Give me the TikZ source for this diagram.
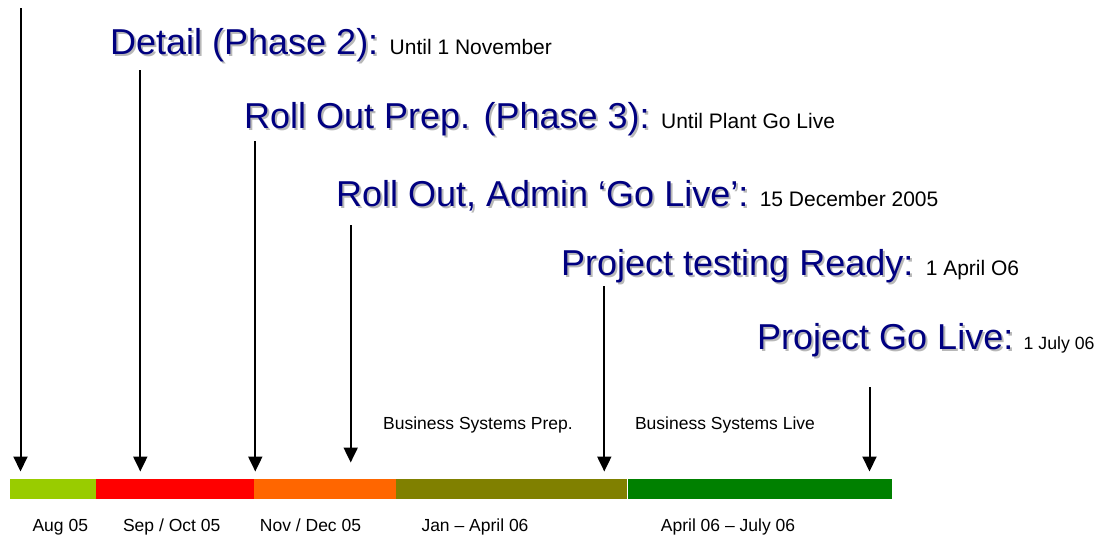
\documentclass[tikz,border=0pt]{standalone}
\usepackage{fontspec}
\setmainfont{Liberation Sans}
\usetikzlibrary{arrows.meta}
\definecolor{titleblue}{RGB}{0,0,128}
\definecolor{augcol}{RGB}{153,204,0}
\definecolor{sepcol}{RGB}{255,0,0}
\definecolor{novcol}{RGB}{255,102,0}
\definecolor{jancol}{RGB}{128,128,0}
\definecolor{aprcol}{RGB}{0,128,0}
\newcommand\shadowtext[1]{\rlap{\hspace{2pt}\raisebox{-2pt}{\textcolor{black!28}{#1}}}#1}
\tikzset{
	phase/.style={anchor=base west, inner sep=0pt, text=titleblue, font=\fontsize{36}{40}\selectfont},
	when/.style={anchor=base west, inner sep=0pt, font=\fontsize{21}{24}\selectfont},
	period/.style={anchor=base, inner sep=0pt, font=\fontsize{17.5}{20}\selectfont},
	milestone/.style={-{Triangle[width=14pt,length=15pt]}, line width=2pt}
}

\begin{document}
\begin{tikzpicture}[x=1pt,y=-1pt]
				\useasboundingbox (0,0) rectangle (1101,536);
				
				\node[phase] (detail) at (110,54) {\shadowtext{Detail (Phase 2):}};
				\node[when] (detailwhen) at ([xshift=11pt]detail.base east) {Until 1 November};
				\node[phase] (prep) at (244,128) {\shadowtext{Roll Out Prep. (Phase 3):}};
				\node[when] (prepwhen) at ([xshift=11pt]prep.base east) {Until Plant Go Live};
				\node[phase] (admin) at (336,206) {\shadowtext{Roll Out, Admin ‘Go Live’:}};
				\node[when] (adminwhen) at ([xshift=11pt]admin.base east) {15 December 2005};
				\node[phase] (testing) at (561,275) {\shadowtext{Project testing Ready:}};
				\node[when] (testingwhen) at ([xshift=12pt]testing.base east) {1 April O6};
				\node[phase] (golive) at (757,349) {\shadowtext{Project Go Live:}};
				\node[when, font=\fontsize{17.7}{20}\selectfont] (golivewhen) at ([xshift=10pt]golive.base east) {1 July 06};
				
				\coordinate (m1) at (20.5,8);
				\coordinate (m1tip) at (20.5,471.5);
				\coordinate (m2) at (140.3,70);
				\coordinate (m2tip) at (140.3,471.5);
				\coordinate (m3) at (255.3,141);
				\coordinate (m3tip) at (255.3,471.5);
				\coordinate (m4) at (350.7,225);
				\coordinate (m4tip) at (350.7,462.5);
				\coordinate (m5) at (604.3,286);
				\coordinate (m5tip) at (604.3,471.5);
				\coordinate (m6) at (869.5,387);
				\coordinate (m6tip) at (869.5,471.5);
				\draw[milestone] (m1) -- (m1tip);
				\draw[milestone] (m2) -- (m2tip);
				\draw[milestone] (m3) -- (m3tip);
				\draw[milestone] (m4) -- (m4tip);
				\draw[milestone] (m5) -- (m5tip);
				\draw[milestone] (m6) -- (m6tip);
				
				\node[period] (bsprep) at (478,429) {Business Systems Prep.};
				\node[period] (bslive) at (725,429) {Business Systems Live};
				
				\fill[augcol] (9.5,479) rectangle (95.5,498.5);
				\fill[sepcol] (95.5,479) rectangle (254,498.5);
				\fill[novcol] (254,479) rectangle (396,498.5);
				\fill[jancol] (396,479) rectangle (626.8,498.5);
				\fill[aprcol] (627.8,479) rectangle (892.3,498.5);
				
				\node[period] (aug) at (60.3,531) {Aug 05};
				\node[period] (sepoct) at (171.7,531) {Sep / Oct 05};
				\node[period] (novdec) at (310.5,531) {Nov / Dec 05};
				\node[period] (janapr) at (475,531) {Jan – April 06};
				\node[period] (aprjul) at (728,531) {April 06 – July 06};
			\end{tikzpicture}
\end{document}
